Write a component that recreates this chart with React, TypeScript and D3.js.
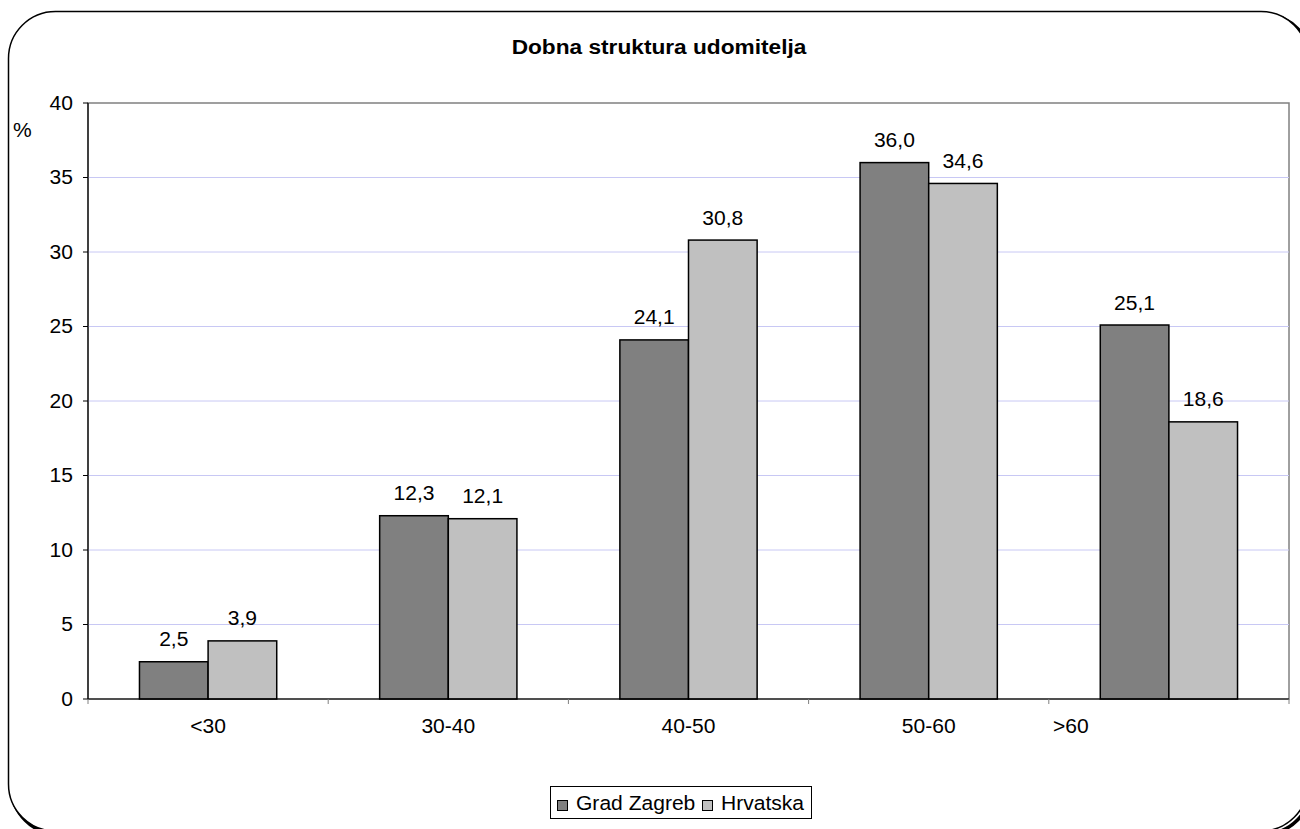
import React from "react";
import * as d3 from "d3";

const categories = ["<30", "30-40", "40-50", "50-60", ">60"];
const seriesNames = ["Grad Zagreb", "Hrvatska"];
const gradZagreb = [2.5, 12.3, 24.1, 36.0, 25.1];
const hrvatska = [3.9, 12.1, 30.8, 34.6, 18.6];
const yTicks = [0, 5, 10, 15, 20, 25, 30, 35, 40];
const title = "Dobna struktura udomitelja";
const yUnit = "%";

const colors = ["#808080", "#c0c0c0"];
const FONT = "'Liberation Sans', Arial, Helvetica, sans-serif";

export default function App() {
  const W = 1300, H = 829;
  const left = 88, right = 1289, top = 103, bottom = 699;
  const x = d3.scaleBand<string>().domain(categories).range([left, right]).paddingInner(0).paddingOuter(0);
  const y = d3.scaleLinear().domain([0, 40]).range([bottom, top]);
  const bw = x.bandwidth();
  const barW = bw / 3.5;
  const series = [gradZagreb, hrvatska];
  const fmt = (v: number) => d3.format(".1f")(v).replace(".", ",");
  const labelDx = [0, 0, 0, 0, -98];
  const fs = 19.5;
  const sx = 1.08;

  const T = (props: any) => {
    const { x: tx, y: ty, children, anchor, size, weight } = props;
    return (
      <text transform={`translate(${tx},${ty}) scale(${sx},1)`} textAnchor={anchor || "start"} fontSize={size || fs} fontWeight={weight || "normal"}>
        {children}
      </text>
    );
  };

  return (
    <svg width={W} height={H} style={{ position: "absolute", left: 0, top: 0, background: "#fff" }} fontFamily={FONT}>
      <rect x={0} y={0} width={W} height={H} fill="#fff" />
      <rect x={11.5} y={14.5} width={1299.5} height={819.5} rx={47} ry={47} fill="none" stroke="#000" strokeWidth={3.5} />
      <rect x={8.5} y={11.5} width={1299.5} height={819.5} rx={47} ry={47} fill="#fff" stroke="#000" strokeWidth={1.5} />

      <T x={659} y={54} anchor="middle" weight="bold" size={21}>{title}</T>

      <rect x={left} y={top} width={right - left} height={bottom - top} fill="#fff" stroke="#808080" strokeWidth={1.5} />
      {yTicks.filter(t => t > 0 && t < 40).map(t => (
        <line key={t} x1={left} x2={right} y1={y(t)} y2={y(t)} stroke="#c8c8f4" strokeWidth={1} />
      ))}

      {categories.map((c, i) => (
        <g key={c}>
          {series.map((s, k) => {
            const bx = (x(c) as number) + barW * 0.75 + k * barW;
            return (
              <g key={k}>
                <rect x={bx} y={y(s[i])} width={barW} height={bottom - y(s[i])} fill={colors[k]} stroke="#000" strokeWidth={1.5} />
                <T x={bx + barW / 2} y={y(s[i]) - 15.5} anchor="middle">{fmt(s[i])}</T>
              </g>
            );
          })}
        </g>
      ))}

      <line x1={left} x2={left} y1={top} y2={bottom} stroke="#000" strokeWidth={1.2} />
      <line x1={left} x2={right} y1={bottom} y2={bottom} stroke="#000" strokeWidth={1.2} />
      {yTicks.map(t => (
        <g key={t}>
          <line x1={left - 5} x2={left} y1={y(t)} y2={y(t)} stroke="#000" strokeWidth={1} />
          <T x={73} y={y(t) + 6.5} anchor="end">{t}</T>
        </g>
      ))}
      {categories.map((c) => (
        <line key={"t" + c} x1={x(c) as number} x2={x(c) as number} y1={bottom} y2={bottom + 5} stroke="#808080" strokeWidth={1} />
      ))}
      <line x1={right} x2={right} y1={bottom} y2={bottom + 5} stroke="#808080" strokeWidth={1} />
      {categories.map((c, i) => (
        <T key={"l" + c} x={(x(c) as number) + bw / 2 + labelDx[i]} y={733} anchor="middle">{c}</T>
      ))}
      <T x={13} y={137}>{yUnit}</T>

      <rect x={550.5} y={786.5} width={261} height={32} fill="#fff" stroke="#000" strokeWidth={1} />
      {seriesNames.map((n, k) => {
        const lx = k === 0 ? 557 : 702;
        return (
          <g key={n}>
            <rect x={lx + 0.5} y={800.5} width={10} height={10} fill={colors[k]} stroke="#000" strokeWidth={1} />
            <T x={lx + 19} y={810} size={19.5}>{n}</T>
          </g>
        );
      })}
    </svg>
  );
}
